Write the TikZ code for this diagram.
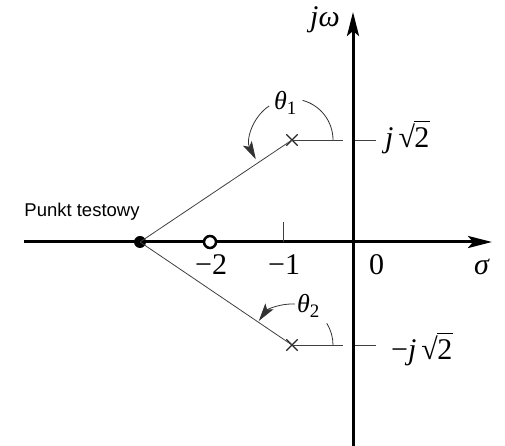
\documentclass[tikz,border=0pt]{standalone}
\usepackage{fontspec}
\newfontfamily\labelsans{Liberation Sans}
\newfontfamily\labelserif{Liberation Serif}
\usetikzlibrary{arrows.meta,shapes.misc}
\newcommand\roottwo{√\kern-0.02em\rlap{\rule[0.86em]{0.52em}{0.045em}}2}
\newcommand\lowsub[1]{\raisebox{-0.18em}{\upshape\fontsize{19}{20}\selectfont #1}}
\begin{document}
\begin{tikzpicture}[x=1pt,y=1pt,
  axis/.style={line width=3pt,-{Stealth[length=24pt,width=12pt,inset=5pt]}},
  thinline/.style={line width=0.8pt,black!75},
  anglearc/.style={line width=0.8pt,black!80},
  arrowarc/.style={line width=0.8pt,black!80,-{Stealth[length=18pt,width=10pt,inset=4pt]}},
  polemark/.style={cross out,draw=black!85,line width=1.3pt,minimum size=10pt,inner sep=0pt},
  mathlbl/.style={font=\labelserif\fontsize{30}{34}\selectfont,inner sep=0pt,anchor=base west},
  anglelbl/.style={font=\labelserif\fontsize{26}{30}\selectfont,inner sep=0pt,anchor=base west},
  sanslbl/.style={font=\labelsans\fontsize{18.5}{22}\selectfont,inner sep=0pt}]
\useasboundingbox (0,0) rectangle (505,446);
% axes
\coordinate (xl) at (24,204);
\coordinate (xr) at (492,204);
\coordinate (yb) at (353,0);
\coordinate (yt) at (353,434);
\draw[axis] (xl) -- (xr);
\draw[axis] (yb) -- (yt);
% tick at -1
\coordinate (tk1) at (283,204);
\coordinate (tk1t) at (283,224);
\draw[thinline] (tk1) -- (tk1t);
% ticks on imaginary axis
\coordinate (ta1) at (355,306);
\coordinate (tb1) at (376,306);
\coordinate (ta2) at (355,101);
\coordinate (tb2) at (376,101);
\draw[thinline] (ta1) -- (tb1);
\draw[thinline] (ta2) -- (tb2);
% poles, zero, test point
\node[polemark] (p1) at (292,306) {};
\node[polemark] (p2) at (292,101) {};
\node[circle,fill=black,minimum size=12pt,inner sep=0pt] (t) at (140,204) {};
\node[circle,draw=black,fill=white,line width=2.5pt,minimum size=12pt,inner sep=0pt] (z) at (210,204) {};
% lines from poles
\coordinate (h1) at (343,306);
\coordinate (h2) at (343,101);
\draw[thinline] (p1.center) -- (h1);
\draw[thinline] (p2.center) -- (h2);
\draw[thinline] (t.center) -- (p1.center);
\draw[thinline] (t.center) -- (p2.center);
% angle arcs
\draw[anglearc] ([shift={(0:41)}]p1.center) arc[start angle=0,end angle=75,radius=41];
\draw[arrowarc] ([shift={(124:41)}]p1.center) arc[start angle=124,end angle=208,radius=41];
\draw[anglearc] ([shift={(0:41)}]p2.center) arc[start angle=0,end angle=32,radius=41];
\draw[arrowarc] ([shift={(86:41)}]p2.center) arc[start angle=86,end angle=144,radius=41];
% labels
\node[anglelbl] (th1) at (274,336) {\itshape θ\lowsub{1}};
\node[anglelbl] (th2) at (297,133) {\itshape θ\lowsub{2}};
\node[mathlbl] (lj1) at (385,298) {{\itshape j}\,\roottwo};
\node[mathlbl] (lj2) at (391,86) {−{\itshape j}\,\roottwo};
\node[mathlbl] (lm2) at (195,171) {−2};
\node[mathlbl] (lm1) at (268,171) {−1};
\node[mathlbl] (l0) at (369,171) {0};
\node[mathlbl] (ls) at (474,171) {\itshape σ};
\node[mathlbl] (ljw) at (310,419) {\itshape jω};
\node[sanslbl] (pt) at (82,234) {Punkt testowy};
\end{tikzpicture}
\end{document}
